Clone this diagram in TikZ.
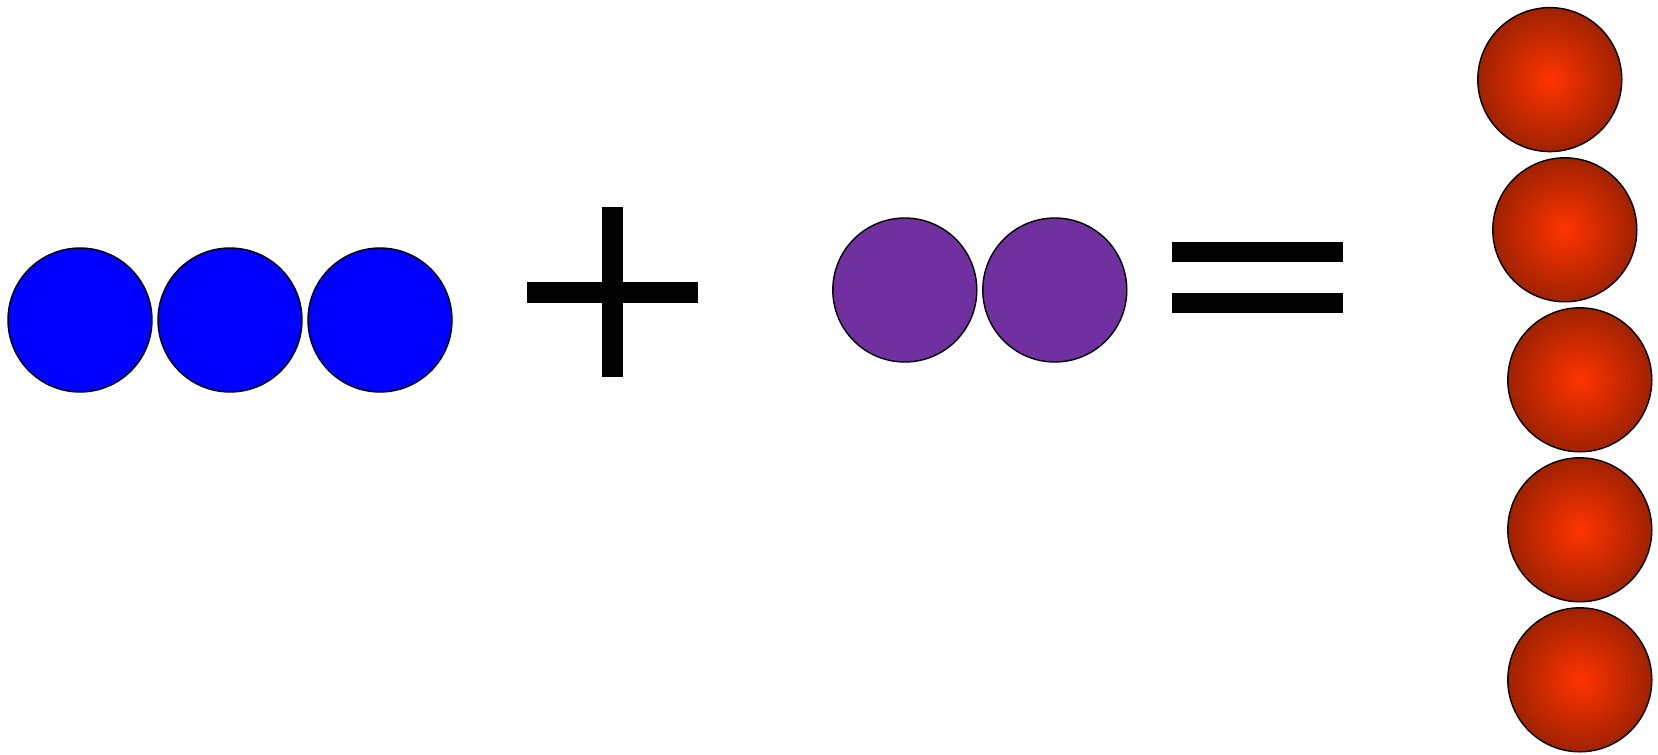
\documentclass[tikz,border=0pt]{standalone}
\begin{document}
\begin{tikzpicture}[x=1pt,y=-1pt,
  ball/.style={circle,draw=black,line width=1.4pt,minimum size=144pt,inner sep=0pt},
  blueball/.style={ball,fill=blueC},
  purpleball/.style={ball,fill=purpleC},
  redball/.style={ball,inner color=redIn,outer color=redOut},
  bar/.style={fill=black}]
\definecolor{blueC}{RGB}{0,0,255}
\definecolor{purpleC}{RGB}{112,48,160}
\definecolor{redIn}{RGB}{255,52,0}
\definecolor{redOut}{RGB}{160,34,0}
\useasboundingbox (0,0) rectangle (1658,755);
% blue
\node[blueball] (b1) at (80,320) {};
\node[blueball] (b2) at (230,320) {};
\node[blueball] (b3) at (380,320) {};
% plus
\fill[bar] (602.3,206.7) rectangle (622.7,376.7);
\fill[bar] (527.3,282) rectangle (698,302.7);
% purple
\node[purpleball] (p1) at (904.8,290) {};
\node[purpleball] (p2) at (1054.8,290) {};
% equals
\fill[bar] (1172,241.9) rectangle (1343,262.2);
\fill[bar] (1172,293) rectangle (1343,313.4);
% red
\node[redball] (r1) at (1549.8,79.6) {};
\node[redball] (r2) at (1564.8,229.8) {};
\node[redball] (r3) at (1579.8,379.8) {};
\node[redball] (r4) at (1579.8,529.8) {};
\node[redball] (r5) at (1579.8,679.8) {};
\end{tikzpicture}
\end{document}
